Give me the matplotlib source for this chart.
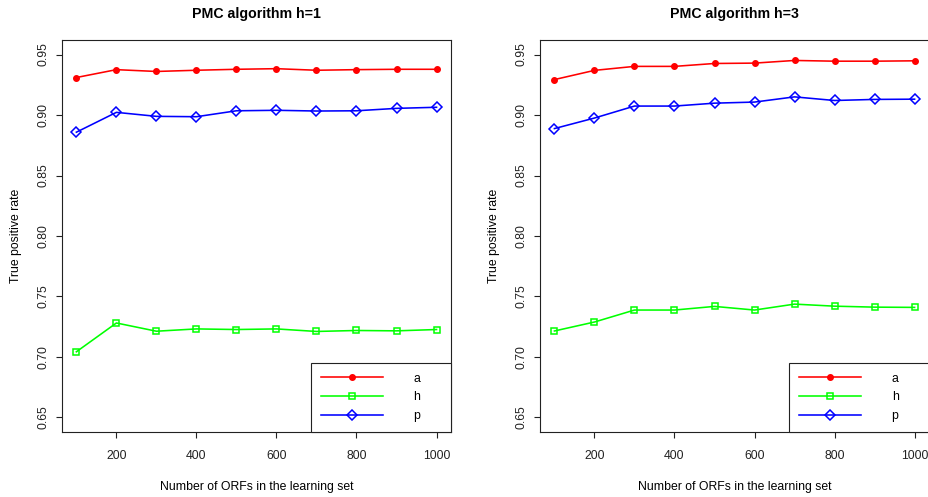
"""Recreate the PMC algorithm true positive rate panels."""

import matplotlib
matplotlib.use('Agg')
import matplotlib.pyplot as plt


ORF_COUNTS = [100, 200, 300, 400, 500, 600, 700, 800, 900, 1000]
SERIES_NAMES = ['a', 'h', 'p']
PANEL_TITLES = ['PMC algorithm h=1', 'PMC algorithm h=3']

# h=1 panel
H1_A = [0.931, 0.9375, 0.936, 0.937, 0.9378, 0.9383, 0.937, 0.9375,
        0.9378, 0.9378]
H1_H = [0.7043, 0.7281, 0.7213, 0.7232, 0.7227, 0.7232, 0.7211, 0.7219,
        0.7216, 0.7227]
H1_P = [0.8858, 0.9022, 0.8989, 0.8986, 0.9035, 0.9039, 0.9033, 0.9035,
        0.9055, 0.9064]

# h=3 panel
H3_A = [0.9293, 0.9369, 0.9402, 0.9402, 0.9426, 0.9429, 0.9451, 0.9445,
        0.9445, 0.9448]
H3_H = [0.7215, 0.7289, 0.7388, 0.7388, 0.7418, 0.7388, 0.7437, 0.742,
        0.7412, 0.741]
H3_P = [0.8888, 0.8975, 0.9074, 0.9074, 0.9098, 0.9107, 0.915, 0.912,
        0.9129, 0.9131]

X_TICKS = [200, 400, 600, 800, 1000]
Y_TICKS = [0.65, 0.70, 0.75, 0.80, 0.85, 0.90, 0.95]

STYLES = {
    'a': dict(color='#ff0000', marker='o', markersize=4.0,
              markerfacecolor='#ff0000'),
    'h': dict(color='#00ff00', marker='s', markersize=4.3,
              markerfacecolor='none', markeredgewidth=1.1),
    'p': dict(color='#0000ff', marker='D', markersize=4.8,
              markerfacecolor='none', markeredgewidth=1.1),
}

FONT_SIZE = 8.8


def draw_panel(axis, title, series):
  for name, values in zip(SERIES_NAMES, series):
    axis.plot(ORF_COUNTS, values, linewidth=1.15, label=name,
              **STYLES[name])

  axis.set_xlim(64, 1036)
  axis.set_ylim(0.638, 0.962)
  axis.set_xticks(X_TICKS)
  axis.set_yticks(Y_TICKS)
  axis.set_xticklabels([str(tick) for tick in X_TICKS])
  axis.set_yticklabels([f'{tick:.2f}' for tick in Y_TICKS],
                       rotation=90, va='center')
  axis.tick_params(direction='out', length=4, width=0.8,
                   labelsize=FONT_SIZE, colors='#222222')
  axis.tick_params(axis='x', pad=9)
  axis.tick_params(axis='y', pad=5)
  for spine in axis.spines.values():
    spine.set_linewidth(0.8)
    spine.set_color('#222222')

  axis.set_title(title, fontsize=10.2, fontweight='bold', pad=16)
  axis.set_xlabel('Number of ORFs in the learning set', fontsize=FONT_SIZE,
                  labelpad=14)
  axis.set_ylabel('True positive rate', fontsize=FONT_SIZE, labelpad=11)

  legend = axis.legend(
      loc='lower left', bbox_to_anchor=(0.64, 0.0, 0.36, 0.184),
      mode='expand', borderaxespad=0, fancybox=False, framealpha=1,
      edgecolor='#222222', fontsize=FONT_SIZE, numpoints=1,
      handlelength=5.1, handletextpad=2.5, labelspacing=0.55,
      borderpad=0.8)
  legend.get_frame().set_linewidth(0.8)


def main():
  plt.rcParams['font.family'] = ['Liberation Sans', 'DejaVu Sans']
  fig = plt.figure(figsize=(9.29, 4.97), dpi=100)
  left_axis = fig.add_axes([0.0667, 0.1308, 0.4187, 0.7887])
  right_axis = fig.add_axes([0.5813, 0.1308, 0.4187, 0.7887])

  draw_panel(left_axis, PANEL_TITLES[0], [H1_A, H1_H, H1_P])
  draw_panel(right_axis, PANEL_TITLES[1], [H3_A, H3_H, H3_P])

  fig.savefig('out.png', dpi=100)
  plt.close(fig)


if __name__ == '__main__':
  main()
